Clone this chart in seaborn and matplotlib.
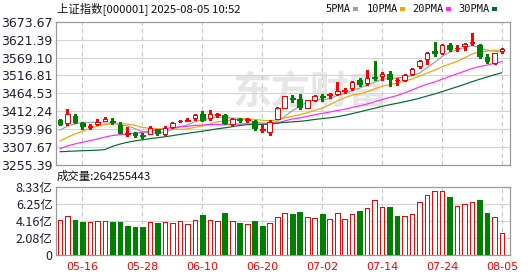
import numpy as np
import pandas as pd
import matplotlib
matplotlib.use("Agg")
import matplotlib.pyplot as plt
import seaborn as sns
from matplotlib.patches import Rectangle

# ---------------- data ----------------
dates = ["05-13", "05-14", "05-15", "05-16", "05-19", "05-20", "05-21", "05-22", "05-23", "05-26",
         "05-27", "05-28", "05-29", "05-30", "06-03", "06-04", "06-05", "06-06", "06-09", "06-10",
         "06-11", "06-12", "06-13", "06-16", "06-17", "06-18", "06-19", "06-20", "06-23", "06-24",
         "06-25", "06-26", "06-27", "06-30", "07-01", "07-02", "07-03", "07-04", "07-07", "07-08",
         "07-09", "07-10", "07-11", "07-14", "07-15", "07-16", "07-17", "07-18", "07-21", "07-22",
         "07-23", "07-24", "07-25", "07-28", "07-29", "07-30", "07-31", "08-01", "08-04", "08-05"]

opens = [3386, 3378, 3399, 3376, 3365, 3374, 3384, 3384, 3372, 3346,
         3348, 3341, 3345, 3359, 3344, 3365, 3383, 3384, 3391, 3404,
         3391, 3401, 3400, 3375, 3388, 3386, 3383, 3357, 3350, 3390,
         3422, 3451, 3448, 3422, 3446, 3456, 3458, 3462, 3472, 3479,
         3503, 3494, 3512, 3515, 3521, 3503, 3503, 3522, 3545, 3566,
         3590, 3583, 3606, 3596, 3602, 3613, 3607, 3570, 3553, 3589]
highs = [3388, 3419, 3405, 3379, 3373, 3388, 3395, 3391, 3380, 3365,
         3352, 3349, 3368, 3361, 3367, 3381, 3387, 3392, 3403, 3411,
         3415, 3408, 3404, 3391, 3392, 3392, 3386, 3370, 3387, 3423,
         3457, 3460, 3463, 3446, 3459, 3461, 3464, 3497, 3479, 3500,
         3510, 3532, 3560, 3526, 3530, 3510, 3520, 3540, 3563, 3586,
         3614, 3608, 3611, 3606, 3611, 3641, 3608, 3580, 3584, 3598]
lows = [3371, 3371, 3378, 3360, 3360, 3371, 3383, 3374, 3347, 3339,
        3335, 3334, 3344, 3341, 3342, 3363, 3379, 3382, 3387, 3383,
        3387, 3396, 3374, 3372, 3380, 3379, 3358, 3350, 3342, 3388,
        3420, 3440, 3418, 3420, 3443, 3441, 3450, 3458, 3465, 3475,
        3486, 3488, 3504, 3504, 3487, 3490, 3500, 3518, 3540, 3549,
        3575, 3580, 3590, 3588, 3592, 3605, 3568, 3552, 3550, 3584]
closes = [3374.87, 3403.95, 3380.82, 3367.46, 3367.58, 3380.48, 3387.57, 3380.19, 3348.37, 3346.84,
          3340.69, 3339.93, 3363.45, 3347.49, 3361.98, 3376.20, 3384.10, 3385.36, 3399.77, 3384.82,
          3402.32, 3402.66, 3377.00, 3388.73, 3385.46, 3388.81, 3362.11, 3359.90, 3381.58, 3420.57,
          3455.97, 3448.45, 3424.23, 3444.43, 3457.75, 3454.79, 3461.15, 3472.32, 3473.13, 3497.48,
          3493.05, 3509.68, 3510.18, 3519.65, 3505.00, 3503.78, 3516.83, 3534.48, 3559.79, 3581.86,
          3582.30, 3605.73, 3593.66, 3597.94, 3609.71, 3615.72, 3573.21, 3559.95, 3583.31, 3594.00]
# volume in 亿
volumes = [4.23, 4.72, 4.27, 4.02, 3.99, 4.11, 4.11, 4.02, 4.02, 3.54,
           3.41, 3.41, 4.02, 3.90, 4.02, 3.86, 4.11, 3.78, 4.23, 4.88,
           4.23, 4.11, 5.12, 4.11, 3.90, 3.78, 4.11, 3.54, 3.90, 4.60,
           5.12, 5.00, 5.24, 4.60, 4.47, 5.00, 4.35, 5.12, 4.35, 5.00,
           5.37, 5.69, 6.67, 5.85, 5.85, 4.76, 4.72, 5.00, 6.42, 7.32,
           7.77, 7.77, 7.07, 5.98, 6.22, 6.42, 6.71, 5.16, 4.60, 2.64]
# closes of the 29 sessions before 05-13 (needed for the moving averages)
history_closes = [3373.75, 3351.31, 3335.75, 3348.44, 3350.13, 3342.01, 3096.58, 3145.55, 3186.81, 3223.64,
                  3238.23, 3262.81, 3267.66, 3276.00, 3280.34, 3276.73, 3291.43, 3299.76, 3296.36, 3297.29,
                  3295.06, 3288.41, 3286.65, 3279.03, 3316.11, 3342.67, 3352.00, 3342.00, 3369.24]

price_ticks = [3255.39, 3307.67, 3359.96, 3412.24, 3464.53, 3516.81, 3569.10, 3621.39, 3673.67]
price_tick_labels = ["3255.39", "3307.67", "3359.96", "3412.24", "3464.53",
                     "3516.81", "3569.10", "3621.39", "3673.67"]
vol_ticks = [0, 2.08, 4.16, 6.25, 8.33]
vol_tick_labels = ["0", "2.08亿", "4.16亿", "6.25亿", "8.33亿"]
xtick_labels = ["05-16", "05-28", "06-10", "06-20", "07-02", "07-14", "07-24", "08-05"]

ma_windows = [5, 10, 20, 30]
ma_names = ["5PMA", "10PMA", "20PMA", "30PMA"]
ma_colors = ["#a0a0a0", "#f5a300", "#ff28ff", "#006b2e"]

title_text = "上证指数[000001] 2025-08-05 10:52"
volume_text = "成交量:264255443"
watermark_text = "东方财富"

# ---------------- style ----------------
sns.set_style("white")
plt.rcParams["font.family"] = ["DejaVu Sans", "Noto Sans CJK SC"]
CJK = ["Noto Sans CJK SC", "DejaVu Sans"]

RED = "#ff0000"
GREEN = "#008000"
GRID = "#d4d4d4"
SPINE = "#9a9a9a"
TXT = "#1e1e32"

W, H = 530, 276
fig = plt.figure(figsize=(W / 100, H / 100), dpi=100)
fig.patch.set_facecolor("white")

def px_axes(x0, y0, x1, y1):
    return fig.add_axes([x0 / W, 1 - y1 / H, (x1 - x0) / W, (y1 - y0) / H])

ax = px_axes(55.5, 22, 509.5, 164.5)
axv = px_axes(55.5, 186.7, 509.5, 255)

n = len(closes)
idx = np.arange(n)
df = pd.DataFrame({"date": dates, "open": opens, "high": highs, "low": lows,
                   "close": closes, "volume": volumes, "i": idx})
allc = pd.Series(history_closes + closes)
for w in ma_windows:
    df[f"ma{w}"] = allc.rolling(w).mean().iloc[-n:].to_numpy()
prev = pd.Series([history_closes[-1]] + closes[:-1])
df["vol_up"] = (df["close"].to_numpy() >= prev.to_numpy())
df["up"] = df["close"] >= df["open"]

xlim = (-0.6, 60.0)
xtick_pos = [dates.index(d) for d in xtick_labels]

# ---- watermark ----
ax.text(0.562, 0.50, watermark_text, transform=ax.transAxes, ha="center", va="center",
        fontsize=28, color="#e6e6e6", family=CJK, fontweight="bold", zorder=0.5)

# ---- moving averages ----
for w, c in zip(ma_windows, ma_colors):
    sns.lineplot(data=df, x="i", y=f"ma{w}", color=c, linewidth=0.85, ax=ax,
                 zorder=2, legend=False)

# ---- candles ----
bw = 0.62
LW = 0.5
for _, r in df.iterrows():
    col = RED if r["up"] else GREEN
    ax.vlines(r["i"], r["low"], r["high"], color=col, linewidth=0.75, zorder=3,
              antialiased=False)
    lo = min(r["open"], r["close"])
    hi = max(r["open"], r["close"])
    ax.add_patch(Rectangle((r["i"] - bw / 2, lo), bw, max(hi - lo, 0.01),
                           facecolor="white" if r["up"] else GREEN,
                           edgecolor=col, linewidth=LW, zorder=4, antialiased=False))

# ---- volume ----
for _, r in df.iterrows():
    col = RED if r["vol_up"] else GREEN
    axv.add_patch(Rectangle((r["i"] - bw / 2, 0), bw, r["volume"],
                            facecolor="white" if r["vol_up"] else GREEN,
                            edgecolor=col, linewidth=LW, zorder=3, antialiased=False))

# ---- axes formatting ----
for a in (ax, axv):
    a.set_xlim(*xlim)
    a.set_xlabel("")
    a.set_ylabel("")
    for s in a.spines.values():
        s.set_color(SPINE)
        s.set_linewidth(0.9)
    a.tick_params(length=0, colors=TXT, labelsize=9, pad=2)
    for xp in xtick_pos:
        a.axvline(xp, color="#c8c8c8", linewidth=0.8, linestyle=(0, (4, 3)), zorder=1)

ax.set_ylim(price_ticks[0], price_ticks[-1])
ax.set_yticks(price_ticks)
ax.set_yticklabels(price_tick_labels)
ax.set_xticks([])
for t in price_ticks[1:-1]:
    ax.axhline(t, color=GRID, linewidth=0.8, zorder=1)

axv.set_ylim(vol_ticks[0], vol_ticks[-1])
axv.set_yticks(vol_ticks)
axv.set_yticklabels(vol_tick_labels, family=CJK)
for t in vol_ticks[1:-1]:
    axv.axhline(t, color=GRID, linewidth=0.8, zorder=1)
axv.set_xticks(xtick_pos)
axv.set_xticklabels(xtick_labels, color=RED, fontsize=8)
axv.tick_params(axis="x", pad=5)
for lab in axv.get_yticklabels():
    lab.set_fontsize(9)

# ---- title / legend / volume label ----
fig.text(57 / W, 1 - 9 / H, title_text, ha="left", va="center", fontsize=8.2,
         color="#111111", family=CJK)
fig.text(57 / W, 1 - 176.5 / H, volume_text, ha="left", va="center", fontsize=8.2,
         color="#111111", family=CJK)

leg_x = [325.5, 367, 412.5, 458.5]
for name, c, lx in zip(ma_names, ma_colors, leg_x):
    fig.text(lx / W, 1 - 9 / H, name, ha="left", va="center", fontsize=7.5,
             color="#111111", family=["DejaVu Sans Mono"])
fig.canvas.draw()
rend = fig.canvas.get_renderer()
for txt, c in zip(fig.texts[-4:], ma_colors):
    bb = txt.get_window_extent(rend)
    x0 = bb.x1 + 2
    fig.add_artist(Rectangle((x0 / W, (H - 10.8) / H), 5 / W, 3.6 / H,
                             transform=fig.transFigure, facecolor=c, edgecolor="none"))

fig.savefig("out.png", dpi=100, facecolor="white")
